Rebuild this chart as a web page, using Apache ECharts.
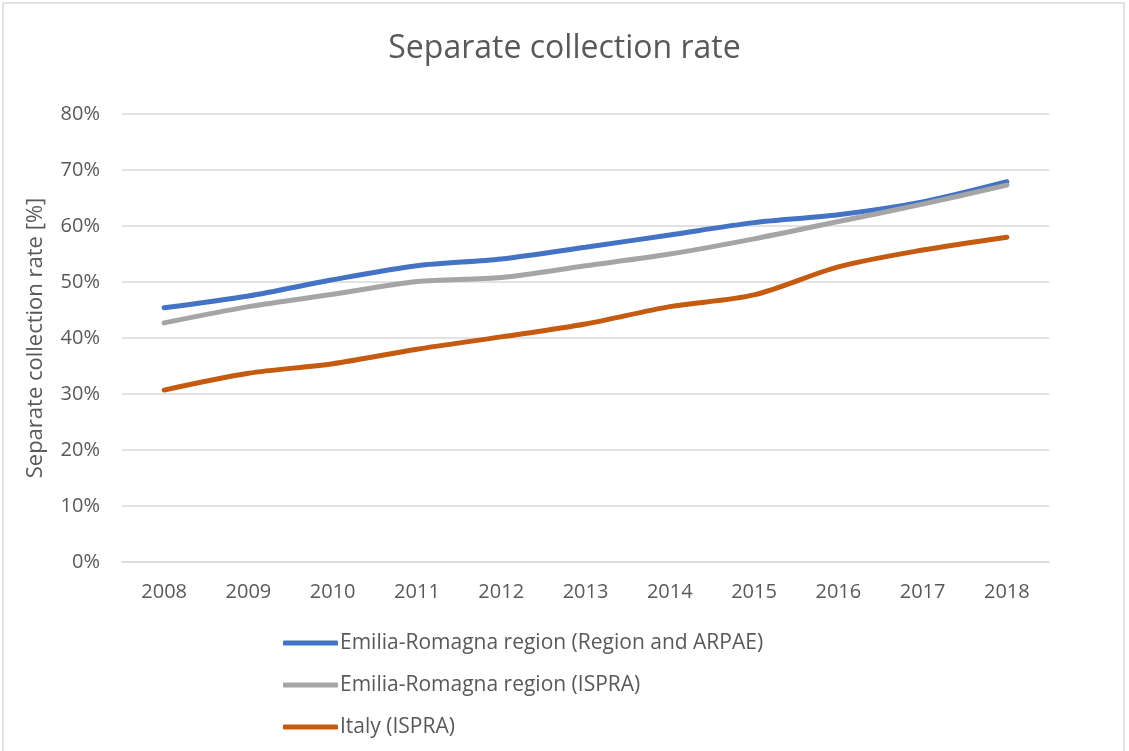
<!DOCTYPE html>
<html>
<head>
<meta charset="utf-8">
<script src="https://cdn.jsdelivr.net/npm/echarts@6/dist/echarts.min.js"></script>
<style>
  html, body { margin: 0; padding: 0; background: #fff; }
  #chart { width: 1129px; height: 751px; }
</style>
</head>
<body>
<div id="chart"></div>
<script>
const years = ['2008', '2009', '2010', '2011', '2012', '2013', '2014', '2015', '2016', '2017', '2018'];
const erRegionArpae = [45.4, 47.5, 50.4, 52.9, 54.1, 56.2, 58.4, 60.6, 62.0, 64.3, 67.9];
const erIspra = [42.7, 45.6, 47.8, 50.1, 50.8, 52.9, 55.0, 57.7, 60.8, 63.9, 67.3];
const italyIspra = [30.7, 33.7, 35.4, 38.0, 40.2, 42.5, 45.6, 47.7, 52.7, 55.7, 58.0];

const seriesNames = [
  'Emilia-Romagna region (Region and ARPAE)',
  'Emilia-Romagna region (ISPRA)',
  'Italy (ISPRA)'
];
const colors = ['#4472C4', '#A5A5A5', '#C55A11'];

const textColor = '#595959';
const fontFamily = '"Open Sans", "Noto Sans", sans-serif';

const chart = echarts.init(document.getElementById('chart'));

function lineSeries(name, data, color) {
  return {
    name: name,
    type: 'line',
    data: data,
    smooth: 0.3,
    symbol: 'none',
    lineStyle: { width: 5, color: color, cap: 'round' },
    itemStyle: { color: color }
  };
}

chart.setOption({
  animation: false,
  color: colors,
  title: {
    text: 'Separate collection rate',
    left: 'center',
    top: 28,
    textStyle: { fontFamily: fontFamily, fontSize: 32, fontWeight: 'normal', color: textColor }
  },
  graphic: [{
    type: 'rect',
    shape: { x: 3, y: 3, width: 1121, height: 760 },
    style: { fill: 'none', stroke: '#D9D9D9', lineWidth: 1.5 },
    silent: true
  }],
  grid: { left: 122, right: 80, top: 114, bottom: 189 },
  legend: {
    orient: 'vertical',
    left: 278,
    top: 626,
    icon: 'roundRect',
    itemWidth: 55,
    itemHeight: 5,
    itemGap: 18,
    textStyle: { fontFamily: fontFamily, fontSize: 21, color: textColor, lineHeight: 24, padding: [0, 0, 0, -3] },
    data: seriesNames
  },
  xAxis: {
    type: 'category',
    data: years,
    boundaryGap: true,
    axisLine: { lineStyle: { color: '#D9D9D9', width: 1.5 } },
    axisTick: { show: false },
    axisLabel: { fontFamily: fontFamily, fontSize: 20, color: textColor, margin: 20 }
  },
  yAxis: {
    type: 'value',
    min: 0,
    max: 80,
    interval: 10,
    name: 'Separate collection rate [%]',
    nameLocation: 'middle',
    nameGap: 75,
    nameTextStyle: { fontFamily: fontFamily, fontSize: 22, color: textColor },
    axisLine: { show: false },
    axisTick: { show: false },
    axisLabel: { formatter: '{value}%', fontFamily: fontFamily, fontSize: 20, color: textColor, margin: 22 },
    splitLine: { lineStyle: { color: '#D9D9D9', width: 1.5 } }
  },
  series: [
    lineSeries(seriesNames[0], erRegionArpae, colors[0]),
    lineSeries(seriesNames[1], erIspra, colors[1]),
    lineSeries(seriesNames[2], italyIspra, colors[2])
  ]
});
</script>
</body>
</html>
